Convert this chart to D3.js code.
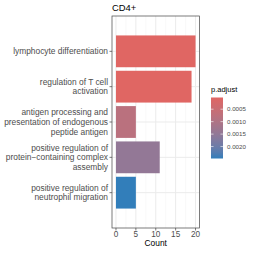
<!DOCTYPE html>
<html>
<head>
<meta charset="utf-8">
<script src="https://cdn.jsdelivr.net/npm/d3@7"></script>
<style>
  body { margin: 0; background: #fff; }
  text { font-family: "Liberation Sans", Arial, sans-serif; }
</style>
</head>
<body>
<svg id="chart" width="254" height="254"></svg>
<script>
// data
const terms = [
  ["lymphocyte differentiation"],
  ["regulation of T cell", "activation"],
  ["antigen processing and", "presentation of endogenous", "peptide antigen"],
  ["positive regulation of", "protein\u2212containing complex", "assembly"],
  ["positive regulation of", "neutrophil migration"]
];
const counts = [20, 19, 5, 11, 5];
const padj = [0.00003, 0.00004, 0.0008, 0.00148, 0.00248];
const xTicks = [0, 5, 10, 15, 20];
const legendTicks = [0.0005, 0.0010, 0.0015, 0.0020];

drawChart();

function drawChart() {
  let svg = d3.select("#chart"),
    pLeft = 112, pRight = 199.5, pTop = 16, pBottom = 228;

  let x = d3.scaleLinear().domain([-1, 21]).range([pLeft, pRight]),
    y = d3.scaleBand().domain(d3.range(terms.length)).range([pTop, pBottom]).paddingInner(0.1).paddingOuter(0.55),
    pExtent = [0.00003, 0.00248],
    color = d3.scaleLinear().domain(pExtent).range(["#e06663", "#327eba"]).interpolate(d3.interpolateLab);

  // title
  svg.append("text").attr("x", pLeft).attr("y", 11).attr("font-size", 9.4).attr("fill", "#000").text("CD4+");

  // panel background grid
  let g = svg.append("g");
  let minor = [2.5, 7.5, 12.5, 17.5];
  g.selectAll(".minor").data(minor).enter().append("line")
    .attr("x1", d => x(d)).attr("x2", d => x(d)).attr("y1", pTop).attr("y2", pBottom)
    .attr("stroke", "#f2f2f2").attr("stroke-width", 0.5);
  g.selectAll(".majx").data(xTicks).enter().append("line")
    .attr("x1", d => x(d)).attr("x2", d => x(d)).attr("y1", pTop).attr("y2", pBottom)
    .attr("stroke", "#ebebeb").attr("stroke-width", 1);
  g.selectAll(".majy").data(terms).enter().append("line")
    .attr("x1", pLeft).attr("x2", pRight)
    .attr("y1", (d, i) => y(i) + y.bandwidth() / 2).attr("y2", (d, i) => y(i) + y.bandwidth() / 2)
    .attr("stroke", "#ebebeb").attr("stroke-width", 1);

  // bars
  g.selectAll("rect.bar").data(counts).enter().append("rect")
    .attr("x", x(0)).attr("y", (d, i) => y(i))
    .attr("width", d => x(d) - x(0)).attr("height", y.bandwidth())
    .attr("fill", (d, i) => color(padj[i]));

  // border
  svg.append("rect").attr("x", pLeft).attr("y", pTop).attr("width", pRight - pLeft).attr("height", pBottom - pTop)
    .attr("fill", "none").attr("stroke", "#444").attr("stroke-width", 0.7);

  // y axis labels
  terms.forEach((lines, i) => {
    let cy = y(i) + y.bandwidth() / 2,
      lh = 9.7,
      y0 = cy - (lines.length - 1) * lh / 2;
    svg.append("line").attr("x1", pLeft - 2.5).attr("x2", pLeft).attr("y1", cy).attr("y2", cy)
      .attr("stroke", "#444").attr("stroke-width", 0.7);
    let t = svg.append("text").attr("text-anchor", "end").attr("font-size", 8.4).attr("fill", "#4d4d4d");
    lines.forEach((l, j) => {
      t.append("tspan").attr("x", pLeft - 4).attr("y", y0 + j * lh).attr("dy", "0.35em").text(l);
    });
  });

  // x axis
  let xa = svg.append("g");
  xTicks.forEach(v => {
    xa.append("line").attr("x1", x(v)).attr("x2", x(v)).attr("y1", pBottom).attr("y2", pBottom + 2.5)
      .attr("stroke", "#444").attr("stroke-width", 0.7);
    xa.append("text").attr("x", x(v)).attr("y", pBottom + 8.8).attr("text-anchor", "middle")
      .attr("font-size", 8.2).attr("fill", "#4d4d4d").text(v);
  });
  svg.append("text").attr("x", (pLeft + pRight) / 2).attr("y", 245.5).attr("text-anchor", "middle")
    .attr("font-size", 8.4).attr("fill", "#000").text("Count");

  // legend
  let lx = 211, ly = 97.5, lw = 12, lhgt = 61;
  svg.append("text").attr("x", lx).attr("y", 91.5).attr("font-size", 7.5).attr("fill", "#000").text("p.adjust");
  let grad = svg.append("defs").append("linearGradient").attr("id", "grad")
    .attr("x1", 0).attr("x2", 0).attr("y1", 0).attr("y2", 1);
  d3.range(0, 1.001, 0.1).forEach(f => {
    grad.append("stop").attr("offset", f).attr("stop-color", color(pExtent[0] + f * (pExtent[1] - pExtent[0])));
  });
  svg.append("rect").attr("x", lx).attr("y", ly).attr("width", lw).attr("height", lhgt).attr("fill", "url(#grad)");
  let ls = d3.scaleLinear().domain(pExtent).range([ly, ly + lhgt]);
  legendTicks.forEach(v => {
    svg.append("line").attr("x1", lx).attr("x2", lx + 2.5).attr("y1", ls(v)).attr("y2", ls(v)).attr("stroke", "#fff").attr("stroke-width", 0.6);
    svg.append("line").attr("x1", lx + lw - 2.5).attr("x2", lx + lw).attr("y1", ls(v)).attr("y2", ls(v)).attr("stroke", "#fff").attr("stroke-width", 0.6);
    svg.append("text").attr("x", lx + lw + 4).attr("y", ls(v)).attr("dy", "0.35em")
      .attr("font-size", 6.2).attr("fill", "#4d4d4d").text(d3.format(".4f")(v));
  });
}
</script>
</body>
</html>
